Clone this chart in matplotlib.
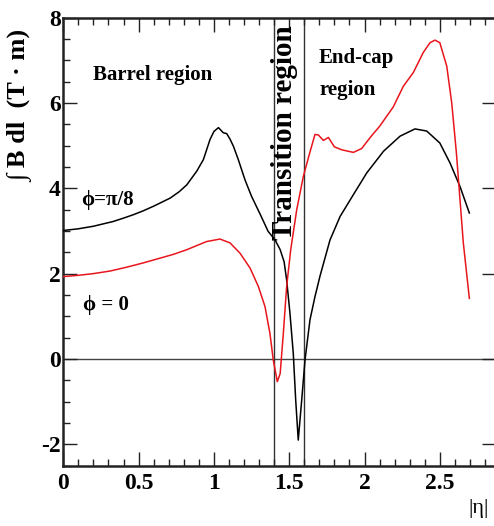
import matplotlib
matplotlib.use("Agg")
import matplotlib.pyplot as plt
from matplotlib.ticker import MultipleLocator

# ---- data ----
eta_pi8 = [0.0, 0.1, 0.2, 0.33, 0.4, 0.465, 0.53, 0.6, 0.71, 0.77, 0.82, 0.886, 0.93, 0.974,
           1.0, 1.03, 1.062, 1.085, 1.107, 1.13, 1.162, 1.206, 1.25, 1.306, 1.36, 1.406,
           1.44, 1.466, 1.483, 1.505, 1.527, 1.543, 1.56, 1.583, 1.605, 1.638, 1.671, 1.705,
           1.771, 1.838, 1.926, 2.015, 2.127, 2.236, 2.335, 2.413, 2.50, 2.568, 2.634, 2.696]
bdl_pi8 = [3.01, 3.05, 3.11, 3.22, 3.30, 3.38, 3.47, 3.58, 3.77, 3.92, 4.08, 4.40, 4.67, 5.14,
           5.33, 5.42, 5.30, 5.28, 5.15, 4.98, 4.67, 4.20, 3.81, 3.40, 2.99, 2.79,
           2.56, 2.28, 1.85, 1.07, 0.13, -0.96, -1.90, -0.96, -0.02, 0.92, 1.46, 1.95,
           2.79, 3.34, 3.85, 4.36, 4.87, 5.22, 5.39, 5.34, 5.06, 4.59, 4.04, 3.42]

eta_0 = [0.0, 0.1, 0.2, 0.31, 0.42, 0.53, 0.64, 0.73, 0.82, 0.95, 1.04, 1.107, 1.173, 1.24,
         1.295, 1.339, 1.372, 1.394, 1.421, 1.44, 1.461, 1.483, 1.51, 1.55, 1.594, 1.638,
         1.671, 1.693, 1.727, 1.76, 1.80, 1.849, 1.926, 1.981, 2.04, 2.10, 2.19, 2.258,
         2.324, 2.39, 2.435, 2.468, 2.50, 2.546, 2.579, 2.61, 2.656, 2.696]
bdl_0 = [1.93, 1.96, 2.00, 2.06, 2.15, 2.25, 2.36, 2.45, 2.56, 2.75, 2.81, 2.72, 2.48, 2.13,
         1.70, 1.23, 0.60, -0.02, -0.53, -0.34, 0.60, 1.70, 2.56, 3.50, 4.28, 4.85,
         5.26, 5.25, 5.12, 5.19, 4.97, 4.90, 4.84, 4.93, 5.20, 5.45, 5.90, 6.39,
         6.71, 7.18, 7.41, 7.47, 7.41, 6.86, 6.00, 4.83, 2.72, 1.42]

transition_bounds = [1.4, 1.6]
xticks = [0, 0.5, 1, 1.5, 2, 2.5]
xticklabels = ["0", "0.5", "1", "1.5", "2", "2.5"]
yticks = [-2, 0, 2, 4, 6, 8]
yticklabels = ["-2", "0", "2", "4", "6", "8"]

# ---- figure ----
W, H = 494, 526
fig = plt.figure(figsize=(W / 100, H / 100), dpi=100)
plt.rcParams['font.family'] = ['Liberation Serif', 'DejaVu Serif']
plt.rcParams['font.weight'] = 'bold'

ax = fig.add_axes([63.3 / W, 1 - 465.7 / H, (496 - 63.3) / W, (465.7 - 17.5) / H])
ax.set_xlim(0, 2.873)
ax.set_ylim(-2.5, 8)

ax.axhline(0, color='#444444', lw=1.0, zorder=1)
for xb in transition_bounds:
    ax.axvline(xb, color='#333333', lw=1.0, zorder=1)

ax.plot(eta_pi8, bdl_pi8, color='black', lw=1.1, zorder=3, solid_joinstyle='round')
ax.plot(eta_0, bdl_0, color='#e8161c', lw=1.1, zorder=3, solid_joinstyle='round')

for s in ax.spines.values():
    s.set_linewidth(1.8)
    s.set_color('#222222')

ax.set_xticks(xticks)
ax.set_xticklabels(xticklabels)
ax.set_yticks(yticks)
ax.set_yticklabels(yticklabels)
ax.xaxis.set_minor_locator(MultipleLocator(0.1))
ax.yaxis.set_minor_locator(MultipleLocator(0.5))
ax.tick_params(which='major', direction='in', length=10, width=1.0, color='#222222',
               top=True, right=True, labelsize=17, pad=3)
ax.tick_params(which='minor', direction='in', length=5, width=1.0, color='#222222',
               top=True, right=False)
ax.tick_params(axis='x', which='major', pad=5)
ax.tick_params(axis='y', which='major', pad=2)
for lab in ax.get_xticklabels() + ax.get_yticklabels():
    lab.set_fontweight('bold')

def fx(px):
    return px / W

def fy(py):
    return 1 - py / H

fig.text(fx(93), fy(80), "Barrel region", fontsize=15, fontweight='bold', va='baseline', ha='left')
fig.text(fx(319), fy(63), "End-cap", fontsize=15, fontweight='bold', va='baseline', ha='left')
fig.text(fx(319), fy(95), "region", fontsize=15, fontweight='bold', va='baseline', ha='left')
fig.text(fx(285), fy(133), "Transition region", fontsize=21, fontweight='bold',
         rotation=90, ha='center', va='center')
fig.text(fx(81), fy(205), "ϕ=π/8", fontsize=15, va='baseline', ha='left')
fig.text(fx(83), fy(310), "ϕ = 0", fontsize=15, va='baseline', ha='left')
fig.text(fx(21), fy(106), "∫ B dl  (T · m)", fontsize=19, fontweight='bold',
         rotation=90, ha='center', va='center')
fig.text(fx(468), fy(513), "|η|", fontsize=16, va='baseline', ha='left', fontweight='normal')

fig.savefig("out.png", dpi=100)
